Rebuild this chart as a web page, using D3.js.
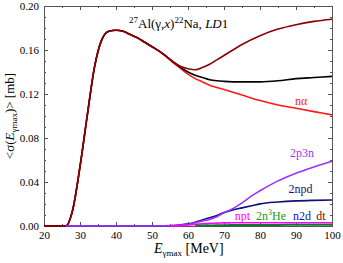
<!DOCTYPE html>
<html>
<head>
<meta charset="utf-8">
<script src="https://cdn.jsdelivr.net/npm/d3@7"></script>
<style>
  body { margin: 0; background: #fff; }
</style>
</head>
<body>
<div id="vis"></div>
<script>

// energy grid for the big curves (MeV)
const energy = [20,22,24,26,28,30,32,34,36,38,40,42,44,46,48,50,52,54,56,58,60,62,64,66,68,70,75,80,85,90,95,100]
const total  = [0,0,0,0,0.015,0.054,0.100,0.144,0.169,0.177,0.178,0.177,0.174,0.171,0.167,0.163,0.159,0.154,0.149,0.145,0.143,0.142,0.144,0.147,0.151,0.155,0.165,0.173,0.179,0.183,0.186,0.188]
const blackSum = [0,0,0,0,0.015,0.054,0.100,0.144,0.169,0.177,0.178,0.177,0.174,0.171,0.167,0.163,0.159,0.154,0.149,0.144,0.140,0.137,0.135,0.133,0.132,0.1315,0.131,0.131,0.132,0.134,0.135,0.136]
const nAlpha = [0,0,0,0,0.015,0.054,0.100,0.144,0.169,0.177,0.178,0.177,0.174,0.171,0.167,0.163,0.159,0.154,0.148,0.143,0.138,0.134,0.131,0.128,0.126,0.124,0.119,0.114,0.110,0.107,0.104,0.101]

// grid for the small channels
const energySmall = [26,30,35,40,45,50,55,56,58,60,62,64,66,68,70,72,75,78,80,85,90,95,100]
const p2n3  = [0,0,0,0,0,0,0.0003,0.0004,0.0008,0.0015,0.003,0.0045,0.006,0.0085,0.012,0.015,0.021,0.028,0.032,0.041,0.048,0.0537,0.0588]
const n2pd  = [0,0,0,0,0,0,0.0002,0.0005,0.001,0.002,0.0035,0.0055,0.0075,0.0095,0.0122,0.0142,0.0165,0.0187,0.0201,0.0218,0.0228,0.0233,0.0236]
const npt   = [null,null,null,null,null,null,0,0.0001,0.0004,0.0009,0.0015,0.002,0.0024,0.0026,0.0028,0.0029,0.003,0.003,0.003,0.003,0.003,0.003,0.003]
const n2He3 = [null,null,null,null,null,null,null,null,null,null,0.0002,0.0004,0.0005,0.0006,0.0007,0.0008,0.0009,0.001,0.001,0.001,0.0011,0.0011,0.0011]

const xTicks = [20,30,40,50,60,70,80,90,100]
const yTicks = [0,0.04,0.08,0.12,0.16,0.20]

const W = 343, H = 263
const mLeft = 44, mRight = 332, mTop = 6, mBottom = 226
const serif = "'Liberation Serif', 'DejaVu Serif', serif"

const svg = d3.select("#vis").append("svg").attr("width", W).attr("height", H)
    .style("font-family", serif)

const x = d3.scaleLinear().domain([20,100]).range([mLeft,mRight])
const y = d3.scaleLinear().domain([0,0.20]).range([mBottom,mTop])

// axes, ticks pointing inwards on all four sides
const axisColor = "#555"
function styleAxis(g) {
    g.attr("font-family", null)
    g.selectAll("path").attr("stroke", axisColor)
    g.selectAll("line").attr("stroke", axisColor)
    g.selectAll("text").attr("fill", "#000").style("font-size", "11px").style("font-family", serif)
}
const minorX = d3.range(20, 101, 5)
const minorY = d3.range(0, 0.2001, 0.01)

svg.append("g").attr("transform", `translate(0,${mBottom})`)
    .call(d3.axisBottom(x).tickValues(minorX).tickSize(-2).tickFormat(""))
    .call(styleAxis)
svg.append("g").attr("transform", `translate(0,${mBottom})`)
    .call(d3.axisBottom(x).tickValues(xTicks).tickSize(-4).tickPadding(5).tickFormat(d3.format("d")))
    .call(styleAxis)
svg.append("g").attr("transform", `translate(0,${mTop})`)
    .call(d3.axisTop(x).tickValues(minorX).tickSize(-2).tickFormat(""))
    .call(styleAxis)
svg.append("g").attr("transform", `translate(0,${mTop})`)
    .call(d3.axisTop(x).tickValues(xTicks).tickSize(-4).tickFormat(""))
    .call(styleAxis)
svg.append("g").attr("transform", `translate(${mLeft},0)`)
    .call(d3.axisLeft(y).tickValues(minorY).tickSize(-2).tickFormat(""))
    .call(styleAxis)
svg.append("g").attr("transform", `translate(${mLeft},0)`)
    .call(d3.axisLeft(y).tickValues(yTicks).tickSize(-4).tickPadding(5).tickFormat(d3.format(".2f")))
    .call(styleAxis)
svg.append("g").attr("transform", `translate(${mRight},0)`)
    .call(d3.axisRight(y).tickValues(minorY).tickSize(-2).tickFormat(""))
    .call(styleAxis)
svg.append("g").attr("transform", `translate(${mRight},0)`)
    .call(d3.axisRight(y).tickValues(yTicks).tickSize(-4).tickFormat(""))
    .call(styleAxis)

// curves
const plot = svg.append("g")
function drawCurve(xs, ys, color, width) {
    const pts = xs.map((e,i) => [e, ys[i]])
    const line = d3.line()
        .defined(d => d[1] !== null)
        .x(d => x(d[0])).y(d => y(d[1]))
        .curve(d3.curveMonotoneX)
    plot.append("path").datum(pts)
        .attr("d", line)
        .attr("fill", "none")
        .attr("stroke", color)
        .attr("stroke-width", width)
}
drawCurve(energy, nAlpha, "#ff1a1a", 1.6)
drawCurve(energy, blackSum, "#000", 1.6)
drawCurve(energy, total, "#8b0000", 1.6)
drawCurve(energySmall, n2pd, "#10107a", 1.6)
drawCurve(energySmall, p2n3, "#9933ff", 1.6)
drawCurve(energySmall, npt, "#ff00ff", 1.6)
drawCurve(energySmall, n2He3, "#0a7a2a", 2)

// curve labels
const labels = [
    {t: "nα", e: 89.7, v: 0.110, c: "#ff1a1a"},
    {t: "2p3n", e: 88.3, v: 0.0627, c: "#9933ff"},
    {t: "2npd", e: 87.9, v: 0.030, c: "#10107a"},
    {t: "npt", e: 73, v: 0.0055, c: "#ff00ff"},
    {t: "n2d", e: 89.2, v: 0.0055, c: "#1010c0"},
    {t: "dt", e: 95.6, v: 0.0055, c: "#8b0000"}
]
svg.selectAll(".clabel").data(labels).enter().append("text")
    .attr("x", d => x(d.e)).attr("y", d => y(d.v))
    .attr("fill", d => d.c)
    .style("font-size", "12px")
    .text(d => d.t)
const he = svg.append("text").attr("x", x(78.9)).attr("y", y(0.0055))
    .attr("fill", "#1a9a1a").style("font-size", "12px")
he.append("tspan").text("2n")
he.append("tspan").attr("dy", -5).style("font-size", "8px").text("3")
he.append("tspan").attr("dy", 5).text("He")

// title
const title = svg.append("text").attr("x", 129).attr("y", 28).style("font-size", "13px")
title.append("tspan").attr("dy", -5).style("font-size", "9px").text("27")
title.append("tspan").attr("dy", 5).text("Al(γ,")
title.append("tspan").style("font-style", "italic").text("x")
title.append("tspan").text(")")
title.append("tspan").attr("dy", -5).style("font-size", "9px").text("22")
title.append("tspan").attr("dy", 5).text("Na,  ")
title.append("tspan").style("font-style", "italic").text("LD")
title.append("tspan").text("1")

// x axis label
const xl = svg.append("text").attr("x", 154).attr("y", 253).style("font-size", "14px")
xl.append("tspan").style("font-style", "italic").text("E")
xl.append("tspan").attr("dy", 3).style("font-size", "9px").text("γmax")
xl.append("tspan").attr("dy", -3).text("  [MeV]")

// y axis label
const yl = svg.append("text")
    .attr("transform", `translate(14,${(mTop+mBottom)/2}) rotate(-90)`)
    .attr("text-anchor", "middle")
    .style("font-size", "13px")
yl.append("tspan").text("<σ(")
yl.append("tspan").style("font-style", "italic").text("E")
yl.append("tspan").attr("dy", 3).style("font-size", "9px").text("γmax")
yl.append("tspan").attr("dy", -3).text(")> [mb]")

</script>
</body>
</html>
